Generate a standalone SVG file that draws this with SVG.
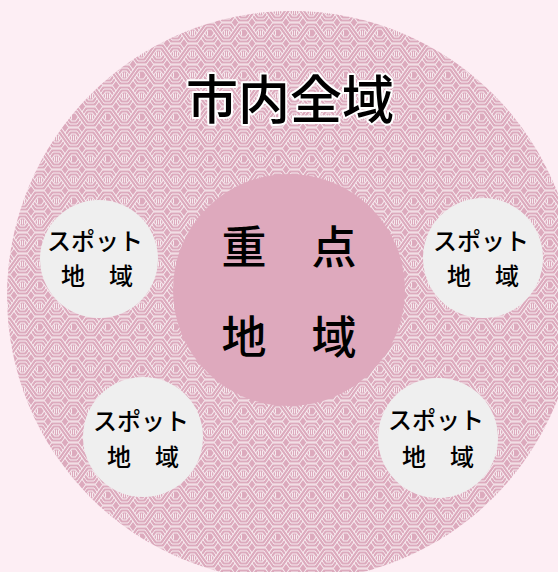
<svg xmlns="http://www.w3.org/2000/svg" width="558" height="572" viewBox="0 0 558 572">
  <style>
    .bw { fill: none; stroke: #ffffff; stroke-width: 7; stroke-opacity: 0.75; }
    .bp { fill: none; stroke: #dcaabd; stroke-width: 5; }
    .bc { fill: none; stroke: #ffffff; stroke-width: 1; stroke-opacity: 0.75; }
    .vs { fill: none; stroke: #ffffff; stroke-width: 1; stroke-opacity: 0.75; }
    .jp { font-family: "Noto Sans CJK JP", "Noto Sans", sans-serif; text-anchor: middle; fill: #000; }
    .title { font-size: 52px; font-weight: 500; stroke: #ffffff; stroke-width: 4; stroke-linejoin: round; paint-order: stroke fill; }
    .core { font-size: 45px; font-weight: 500; }
    .spot { font-size: 24px; font-weight: 500; }
    .spotc { fill: #efefef; }
  </style>
  <defs>
    <path id="wa" d="M-37,3 H-30 L-20,17 H-13 L-3,3 H4 L14,17 H21 L31,3 H38 L48,17 H55 L65,3 H72"/>
    <path id="wb" d="M-37,17 H-30 L-20,3 H-13 L-3,17 H4 L14,3 H21 L31,17 H38 L48,3 H55 L65,17 H72"/>
    <path id="vl" d="M15.5,7.5 V12.5 M17.5,7.5 V12.5 M19.5,7.5 V12.5 M-1.5,7.5 V12.5 M0.5,7.5 V12.5 M2.5,7.5 V12.5 M32.5,7.5 V12.5 M34.5,7.5 V12.5 M36.5,7.5 V12.5"/>
    <g id="row">
      <use href="#wa" class="bw"/><use href="#wa" class="bp"/><use href="#wa" class="bc"/>
      <use href="#wb" class="bw"/><use href="#wb" class="bp"/><use href="#wb" class="bc"/>
      <use href="#vl" class="vs"/>
    </g>
    <pattern id="weave" patternUnits="userSpaceOnUse" width="34" height="42" x="5" y="2">
      <rect width="34" height="42" fill="#dcaabd"/>
      <use href="#row" transform="translate(0,-42)"/>
      <use href="#row" transform="translate(17,-21)"/>
      <use href="#row"/>
      <use href="#row" transform="translate(17,21)"/>
      <use href="#row" transform="translate(0,42)"/>
    </pattern>
  </defs>

  <rect id="background" width="558" height="572" fill="#fdeef4"/>

  <g id="city-wide">
    <circle cx="292" cy="296" r="285" fill="url(#weave)"/>
    <text class="jp title" x="290" y="119">市内全域</text>
  </g>

  <g id="priority-area">
    <circle cx="289" cy="290" r="116" fill="#dea9bd"/>
    <text class="jp core" x="289" y="264">重　点</text>
    <text class="jp core" x="289" y="354">地　域</text>
  </g>

  <g id="spot-top-left">
    <circle class="spotc" cx="99" cy="259" r="59"/>
    <text class="jp spot" x="95" y="250">スポット</text>
    <text class="jp spot" x="97" y="285">地　域</text>
  </g>

  <g id="spot-top-right">
    <circle class="spotc" cx="483" cy="258" r="60"/>
    <text class="jp spot" x="481" y="250">スポット</text>
    <text class="jp spot" x="483" y="285">地　域</text>
  </g>

  <g id="spot-bottom-left">
    <circle class="spotc" cx="143" cy="437" r="60"/>
    <text class="jp spot" x="141" y="430">スポット</text>
    <text class="jp spot" x="143" y="466">地　域</text>
  </g>

  <g id="spot-bottom-right">
    <circle class="spotc" cx="438" cy="438" r="60"/>
    <text class="jp spot" x="436" y="429">スポット</text>
    <text class="jp spot" x="438" y="466">地　域</text>
  </g>
</svg>
